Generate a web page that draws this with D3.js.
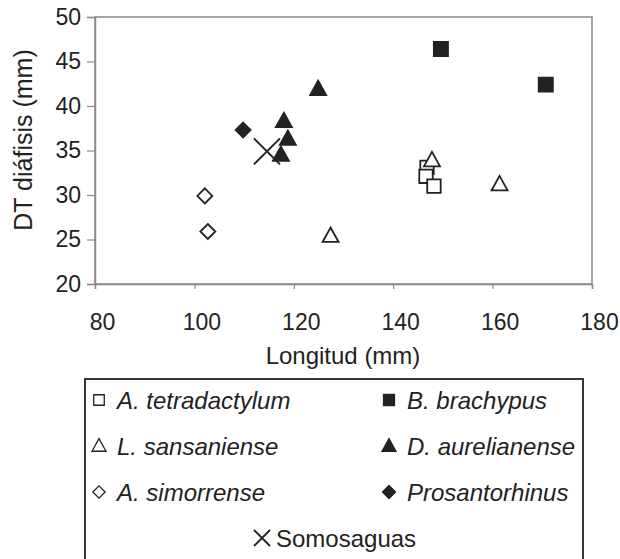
<!DOCTYPE html>
<html><head><meta charset="utf-8">
<script src="https://cdn.jsdelivr.net/npm/d3@7"></script>
<style>body{margin:0;background:#fff}svg{display:block}text{font-family:"Liberation Sans",Arial,sans-serif;fill:#222}</style>
</head><body>
<script>
// Data
const series = ["A. tetradactylum","B. brachypus","L. sansaniense","D. aurelianense","A. simorrense","Prosantorhinus","Somosaguas"];
const tetradactylum = [[146.8,33.1],[146.6,32.1],[148.2,31.0]];
const brachypus = [[149.6,46.4],[170.7,42.4]];
const sansaniense = [[147.8,33.9],[161.4,31.2],[127.4,25.4]];
const aurelianense = [[124.9,41.9],[118.0,38.3],[118.8,36.3],[117.4,34.5]];
const simorrense = [[102.1,29.9],[102.7,25.9]];
const prosantorhinus = [[109.8,37.3]];
const somosaguas = [[114.6,34.9]];
const xTicks = [80,100,120,140,160,180];
const yTicks = [20,25,30,35,40,45,50];

const W=620,H=559;
const svg=d3.select("body").append("svg").attr("width",W).attr("height",H);
const x=d3.scaleLinear().domain([80,180]).range([95,592]);
const y=d3.scaleLinear().domain([20,50]).range([284,17]);
const axisCol="#8a8a8a", ink="#222";

// plot frame
svg.append("rect").attr("x",95).attr("y",17).attr("width",592-95).attr("height",284-17)
  .attr("fill","none").attr("stroke",axisCol).attr("stroke-width",1.5);

const gx=svg.append("g").attr("transform","translate(0,284)")
  .call(d3.axisBottom(x).tickValues(xTicks).tickSize(5).tickPadding(29));
const gy=svg.append("g").attr("transform","translate(95,0)")
  .call(d3.axisLeft(y).tickValues(yTicks).tickSize(8).tickPadding(5));
[gx,gy].forEach(g=>{
  g.select(".domain").attr("stroke",axisCol).attr("stroke-width",1.5);
  g.selectAll(".tick line").attr("stroke",axisCol).attr("stroke-width",1.2);
  g.selectAll(".tick text").attr("font-size",23).attr("font-family","Liberation Sans, Arial, sans-serif").attr("fill",ink);
});
gx.selectAll(".tick text").attr("dx",7).attr("dy","0.5em");
gy.selectAll(".tick text").attr("dx",-1);

svg.append("text").attr("x",343).attr("y",364).attr("text-anchor","middle").attr("font-size",24).text("Longitud (mm)");
svg.append("text").attr("transform","translate(32,140) rotate(-90)").attr("text-anchor","middle").attr("font-size",25).text("DT diáfisis (mm)");

// custom symbols
const diamondSym={draw(c,s){const r=Math.sqrt(s)/2;c.moveTo(0,-r);c.lineTo(r,0);c.lineTo(0,r);c.lineTo(-r,0);c.closePath();}};
const xSym={draw(c,s){const r=Math.sqrt(s)/2;c.moveTo(-r,-r);c.lineTo(r,r);c.moveTo(r,-r);c.lineTo(-r,r);}};
const triSym={draw(c,s){const r=Math.sqrt(s)/2;c.moveTo(0,-r*1.05);c.lineTo(r,r*0.75);c.lineTo(-r,r*0.75);c.closePath();}};

const specs=[
 {data:tetradactylum,type:d3.symbolSquare,size:180,fill:"#fff",lsize:110},
 {data:brachypus,type:d3.symbolSquare,size:200,fill:ink,lsize:120},
 {data:sansaniense,type:triSym,size:256,fill:"#fff",lsize:196},
 {data:aurelianense,type:triSym,size:256,fill:ink,lsize:196},
 {data:simorrense,type:diamondSym,size:225,fill:"#fff",lsize:150},
 {data:prosantorhinus,type:diamondSym,size:225,fill:ink,lsize:169},
 {data:somosaguas,type:xSym,size:676,fill:"none",lsize:256}
];
specs.forEach(sp=>{
  svg.append("g").selectAll("path").data(sp.data).join("path")
    .attr("transform",d=>`translate(${x(d[0])},${y(d[1])})`)
    .attr("d",d3.symbol().type(sp.type).size(sp.size)())
    .attr("fill",sp.fill).attr("stroke",ink).attr("stroke-width",sp.fill==="none"?2:1.8);
});

// legend
svg.append("rect").attr("x",85).attr("y",379).attr("width",498).attr("height",200)
  .attr("fill","none").attr("stroke",ink).attr("stroke-width",1.8);
const legPos=[[99,401],[389,401],[99,447],[389,447],[99,493],[389,493],[262,539]];
series.forEach((name,i)=>{
  const sp=specs[i],[lx,ly]=legPos[i];
  svg.append("path").attr("transform",`translate(${lx},${ly-1})`)
    .attr("d",d3.symbol().type(sp.type).size(sp.lsize)())
    .attr("fill",sp.fill).attr("stroke",ink).attr("stroke-width",sp.fill==="none"?1.8:1.3);
  svg.append("text").attr("x",lx+(i===6?14:18)).attr("y",ly+8).attr("font-size",24)
    .attr("font-style",i===6?"normal":"italic").text(name);
});
</script>
</body></html>
